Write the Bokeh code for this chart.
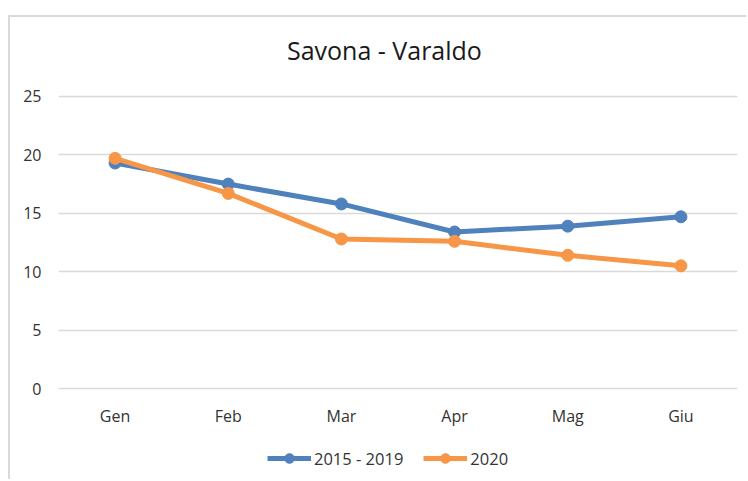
from bokeh.plotting import figure
from bokeh.models import Range1d, Legend, LegendItem, FixedTicker, Label
from bokeh.core.properties import value
from bokeh.embed import file_html
from bokeh.resources import INLINE

months = ["Gen", "Feb", "Mar", "Apr", "Mag", "Giu"]
series_a_name = "2015 - 2019"
series_a = [19.3, 17.5, 15.8, 13.4, 13.9, 14.7]
series_b_name = "2020"
series_b = [19.7, 16.7, 12.8, 12.6, 11.4, 10.5]
y_ticks = [0, 5, 10, 15, 20, 25]
title_text = "Savona - Varaldo"

BLUE = "#4F81BD"
ORANGE = "#F79646"
GRID = "#d9d9d9"
FONT = "Open Sans"
TXT = "#333333"

# the frame spans the full height so the title, category labels and legend sit inside it
y_min = -7.96
y_max = 31.76
p = figure(x_range=months, y_range=Range1d(y_min, y_max), width=738, height=464,
           output_backend="svg", toolbar_location=None, x_axis_location=None,
           min_border_left=48, min_border_right=11, min_border_top=0, min_border_bottom=0)
p.styles = {"border-top": "2px solid #d9d9d9", "border-left": "2px solid #d9d9d9",
            "margin-top": "15px", "margin-left": "8px"}
p.outline_line_color = None
p.background_fill_color = "white"
p.border_fill_color = "white"

p.add_layout(Label(x=2.88, y=29.0, text=title_text, text_align="center",
                   text_baseline="alphabetic", text_font=FONT, text_font_size="25px",
                   text_color="#1a1a1a"))

r_a = p.line(months, series_a, line_color=BLUE, line_width=5)
s_a = p.scatter(months, series_a, size=12, fill_color=BLUE, line_color=BLUE)
r_b = p.line(months, series_b, line_color=ORANGE, line_width=5)
s_b = p.scatter(months, series_b, size=12, fill_color=ORANGE, line_color=ORANGE)

# category labels under the 0 line
p.text(x=months, y=[-1.38] * len(months), text=months, text_align="center",
       text_baseline="top", text_font=value(FONT), text_font_size="16px", text_color=TXT)

p.xgrid.grid_line_color = None
p.ygrid.grid_line_color = GRID
p.ygrid.grid_line_width = 1.5
p.yaxis.ticker = FixedTicker(ticks=y_ticks)
p.yaxis.axis_line_color = None
p.yaxis.major_tick_line_color = None
p.yaxis.minor_tick_line_color = None
p.yaxis.major_label_text_font = FONT
p.yaxis.major_label_text_font_size = "16px"
p.yaxis.major_label_text_color = TXT
p.yaxis.major_label_standoff = 11

legend = Legend(items=[LegendItem(label=series_a_name, renderers=[r_a, s_a]),
                       LegendItem(label=series_b_name, renderers=[r_b, s_b])],
                orientation="horizontal", location=(209, 11),
                border_line_color=None, background_fill_alpha=0,
                label_text_font=FONT, label_text_font_size="16.5px", label_text_color=TXT,
                glyph_width=44, glyph_height=24, label_height=24, spacing=20,
                label_standoff=3, padding=0, margin=0)
p.add_layout(legend, "center")

open("out.html", "w").write(file_html(p, INLINE))
